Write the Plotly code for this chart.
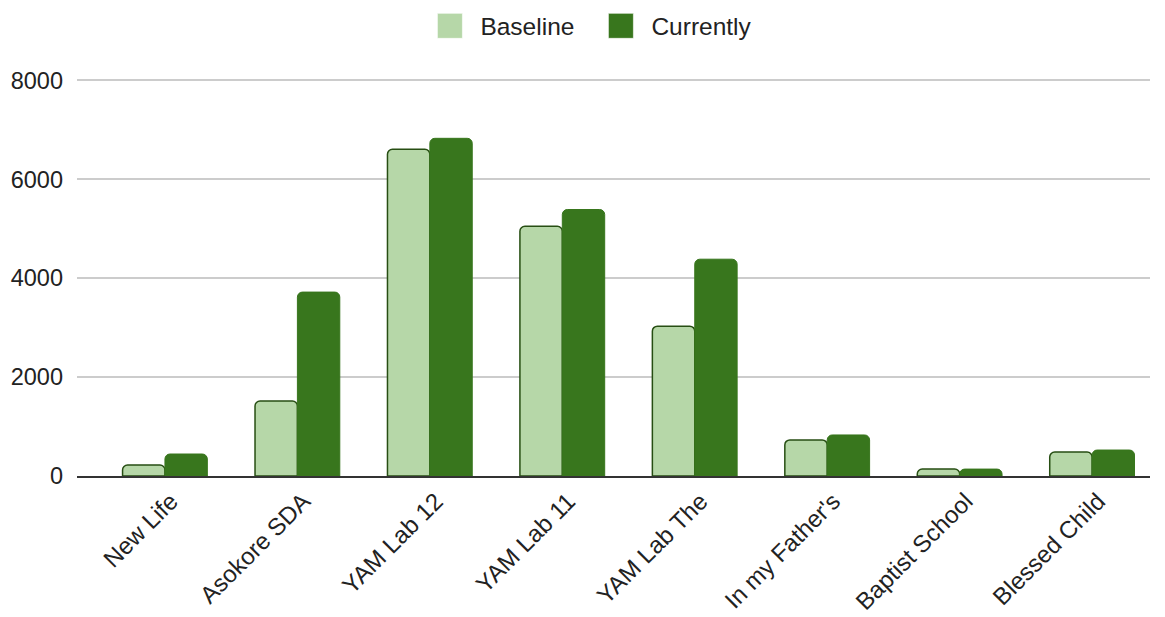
import plotly.graph_objects as go

categories = ["New Life", "Asokore SDA", "YAM Lab 12", "YAM Lab 11", "YAM Lab The",
              "In my Father's", "Baptist School", "Blessed Child"]
baseline = [220, 1515, 6610, 5050, 3030, 730, 140, 485]
currently = [445, 3720, 6830, 5390, 4385, 830, 140, 525]
y_ticks = [0, 2000, 4000, 6000, 8000]

fig = go.Figure()
fig.add_trace(go.Bar(
    name="Baseline", x=categories, y=baseline,
    marker=dict(color="#b6d7a8", line=dict(color="#274e13", width=1.5), cornerradius=5),
))
fig.add_trace(go.Bar(
    name="Currently", x=categories, y=currently,
    marker=dict(color="#38761d", line=dict(color="#38761d", width=1), cornerradius=5),
))

fig.update_layout(
    width=1165, height=617,
    margin=dict(l=77, r=15, t=77.5, b=141),
    paper_bgcolor="white", plot_bgcolor="white",
    barmode="group", bargap=0.36, bargroupgap=0.0,
    font=dict(family="Liberation Sans, Arial, sans-serif", size=23.5, color="#222222"),
    legend=dict(orientation="h", xref="container", yref="container",
                x=0.36, xanchor="left", y=0.958, yanchor="middle",
                font=dict(size=24.5, color="#222222"), itemsizing="constant",
                itemwidth=51, entrywidth=105, entrywidthmode="pixels", tracegroupgap=0),
    showlegend=True,
)
fig.update_xaxes(
    type="category", range=[-0.664, 7.437], tickangle=-45, automargin=False,
    showgrid=False, showline=True, linecolor="#333333", linewidth=1.5,
    tickfont=dict(size=24, color="#222222"), ticks="", ticklabelshift=6,
)
fig.update_yaxes(
    range=[0, 8050], tickvals=y_ticks, showgrid=True, gridcolor="#cccccc", gridwidth=1.5,
    zeroline=False, showline=False, tickfont=dict(size=23.5, color="#222222"),
    ticklabelstandoff=13, automargin=False,
)

post = """
document.body.style.margin = '0';
document.body.style.overflow = 'hidden';
document.querySelectorAll('.legend .legendpoints path').forEach(function (p) {
  p.setAttribute('d', 'M12.5,12.5H-12.5V-12.5H12.5Z');
  p.style.strokeWidth = '1px';
  p.style.stroke = 'rgba(255,255,255,0.6)';
});
"""

fig.write_html("out.html", post_script=post, config={"displayModeBar": False})
